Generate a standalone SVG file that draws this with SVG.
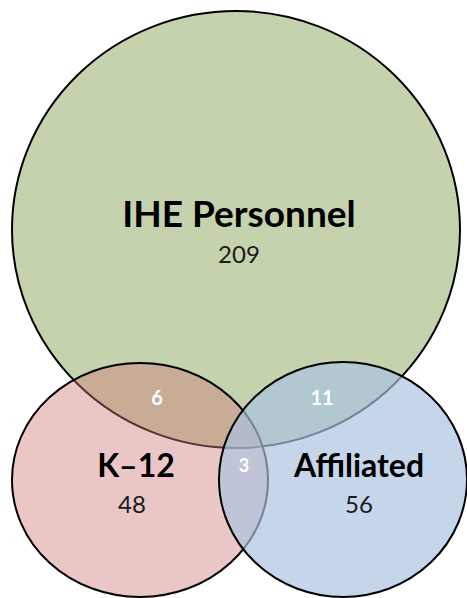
<svg xmlns="http://www.w3.org/2000/svg" width="467" height="598" viewBox="0 0 467 598">
<style>
.c{stroke:#000;stroke-width:2}
.t{font-family:Lato,"Open Sans","Liberation Sans",sans-serif;text-anchor:middle}
.b{font-weight:bold;fill:#000}
.n{fill:#1a1a1a}
.w{font-weight:bold;fill:#fff}
</style>
<rect width="467" height="598" fill="#fff"/>
<g id="ihe">
<ellipse class="c" cx="236" cy="229.5" rx="224" ry="218.5" fill="#c4d3ad"/>
</g>
<g id="k12">
<ellipse class="c" cx="140" cy="480" rx="128" ry="117" fill="rgb(208,120,120)" fill-opacity="0.42"/>
</g>
<g id="affiliated">
<ellipse class="c" cx="343" cy="479.5" rx="124" ry="117.5" fill="rgb(170,195,224)" fill-opacity="0.68"/>
</g>
<g id="labels">
<text class="t b" x="239" y="227" font-size="37">IHE Personnel</text>
<text class="t n" x="239" y="263" font-size="24">209</text>
<text class="t b" x="136" y="477" font-size="32">K–12</text>
<text class="t n" x="132" y="513" font-size="24">48</text>
<text class="t b" x="359" y="477" font-size="32">Affiliated</text>
<text class="t n" x="359" y="513" font-size="24">56</text>
<text class="t w" x="157" y="405" font-size="20">6</text>
<text class="t w" x="322" y="405" font-size="20">11</text>
<text class="t w" x="244" y="472" font-size="18">3</text>
</g>
</svg>
